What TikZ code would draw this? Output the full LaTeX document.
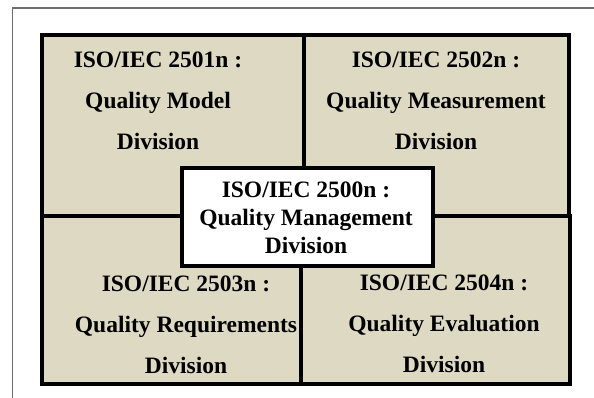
\documentclass[tikz,border=0pt]{standalone}
\usepackage{fontspec}
\setmainfont{Liberation Serif}
\usetikzlibrary{positioning}

\definecolor{divfill}{HTML}{DDD9C3}
\definecolor{framegray}{HTML}{6E6E6E}

\tikzset{
    divbox/.style={draw, fill=divfill, line width=4pt, line join=miter,
        inner sep=0pt, outer sep=0pt},
    corebox/.style={divbox, fill=white},
    divtext/.style={align=center, anchor=base, inner sep=0pt,
        font=\fontsize{23.5}{41}\selectfont\bfseries},
    coretext/.style={divtext, font=\fontsize{23.5}{28}\selectfont\bfseries}
}

\begin{document}
\begin{tikzpicture}[x=1pt, y=-1pt]
    \useasboundingbox (0,0) rectangle (594,398);
    % page frame
    \draw[framegray, line width=1.3pt] (12.5,398) -- (12.5,8) -- (594,8);

    % the four divisions
    \node[divbox, minimum width=262pt, minimum height=180.5pt] (model) at (173,125.75) {};
    \node[divbox, minimum width=265pt, minimum height=180.5pt] (measure) at (436.5,125.75) {};
    \node[divbox, minimum width=259pt, minimum height=167.5pt] (require) at (171.5,299.75) {};
    \node[divbox, minimum width=269pt, minimum height=167.5pt] (evaluate) at (435.5,299.75) {};
    % management in the middle
    \node[corebox, minimum width=251pt, minimum height=98pt] (manage) at (307,217) {};

    % texts, placed by the baseline of their last line
    \node[divtext] (modeltxt) at (158,150) {ISO/IEC 2501n :\\Quality Model\\Division};
    \node[divtext] (measuretxt) at (436,150) {ISO/IEC 2502n :\\Quality Measurement\\Division};
    \node[divtext] (requiretxt) at (186,373) {ISO/IEC 2503n :\\Quality Requirements\\Division};
    \node[divtext] (evaluatetxt) at (444,372) {ISO/IEC 2504n :\\Quality Evaluation\\Division};
    \node[coretext] (managetxt) at (306,253) {ISO/IEC 2500n :\\Quality Management\\Division};
\end{tikzpicture}
\end{document}
